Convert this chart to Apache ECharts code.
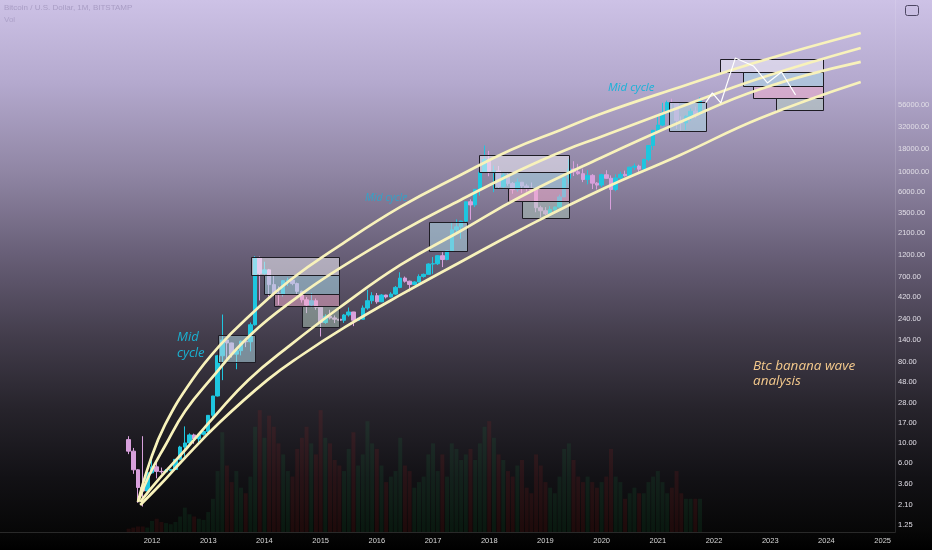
<!DOCTYPE html>
<html><head><meta charset="utf-8">
<script src="https://cdn.jsdelivr.net/npm/echarts@6/dist/echarts.min.js"></script>
<style>
html,body{margin:0;padding:0;background:#000;}
#c{width:932px;height:550px;background:linear-gradient(to bottom,#cdc2e6 0%,#b4a9ce 15%,#8e84a2 32%,#665d75 47%,#433d4c 61%,#27242c 74%,#121115 87%,#070707 96.6%,#000 100%);}
</style></head><body><div id="c"></div>
<script>
// Monthly candles: [month, open, high, low, close]
const candles = [
['2011-08',11.0,12.0,7.6,8.2],['2011-09',8.2,8.9,4.6,5.1],['2011-10',5.1,5.2,2.2,3.25],['2011-11',3.25,12.0,2.0,2.97],['2011-12',2.97,4.8,2.7,4.72],
['2012-01',4.72,7.2,4.6,5.5],['2012-02',5.5,6.3,4.1,4.9],['2012-03',4.9,5.4,4.6,4.85],['2012-04',4.85,5.2,4.7,5.0],['2012-05',5.0,5.2,4.9,5.15],['2012-06',5.15,6.7,5.1,6.65],
['2012-07',6.65,9.4,6.5,9.1],['2012-08',9.1,15.4,7.1,10.1],['2012-09',10.1,12.9,9.8,12.4],['2012-10',12.4,12.8,9.9,11.2],['2012-11',11.2,12.9,10.0,12.6],['2012-12',12.6,13.8,12.2,13.5],
['2013-01',13.5,20.4,13.2,20.4],['2013-02',20.4,33.5,19.4,33.4],['2013-03',33.4,95,33.0,93],['2013-04',93,266,50,139],['2013-05',139,140,79,129],['2013-06',129,130,89,97],
['2013-07',97,111,66,106],['2013-08',106,137,94,135],['2013-09',135,146,116,133],['2013-10',133,217,104,205],['2013-11',205,1180,200,1130],['2013-12',1130,1165,380,754],
['2014-01',754,1020,735,830],['2014-02',830,850,420,570],['2014-03',570,710,430,450],['2014-04',450,545,340,445],['2014-05',445,640,420,630],['2014-06',630,680,550,640],
['2014-07',640,660,560,585],['2014-08',585,600,440,480],['2014-09',480,490,360,387],['2014-10',387,415,276,338],['2014-11',338,460,320,378],['2014-12',378,400,300,320],
['2015-01',320,320,152,217],['2015-02',217,268,210,254],['2015-03',254,300,235,244],['2015-04',244,260,214,236],['2015-05',236,248,225,230],['2015-06',230,270,215,263],
['2015-07',263,318,252,284],['2015-08',284,285,198,230],['2015-09',230,245,225,236],['2015-10',236,335,235,314],['2015-11',314,500,300,378],['2015-12',378,470,350,430],
['2016-01',430,460,350,368],['2016-02',368,447,365,437],['2016-03',437,440,400,416],['2016-04',416,470,412,448],['2016-05',448,550,440,531],['2016-06',531,780,520,673],
['2016-07',673,700,600,621],['2016-08',621,630,480,572],['2016-09',572,620,565,609],['2016-10',609,740,605,701],['2016-11',701,755,680,740],['2016-12',740,980,740,963],
['2017-01',963,1150,750,970],['2017-02',970,1210,940,1190],['2017-03',1190,1300,890,1080],['2017-04',1080,1350,1060,1350],['2017-05',1350,2770,1350,2300],['2017-06',2300,3000,2100,2480],
['2017-07',2480,2900,1830,2870],['2017-08',2870,4700,2700,4700],['2017-09',4700,5000,2970,4340],['2017-10',4340,6450,4100,6450],['2017-11',6450,11500,5500,10000],['2017-12',10000,19700,10000,13800],
['2018-01',13800,17200,9000,10200],['2018-02',10200,11800,6000,10300],['2018-03',10300,11700,6600,6930],['2018-04',6930,9800,6450,9240],['2018-05',9240,9990,7060,7500],['2018-06',7500,7770,5770,6390],
['2018-07',6390,8500,6070,7730],['2018-08',7730,7760,5880,7030],['2018-09',7030,7420,6100,6630],['2018-10',6630,7680,6200,6370],['2018-11',6370,6550,3600,4040],['2018-12',4040,4250,3160,3740],
['2019-01',3740,4100,3350,3450],['2019-02',3450,4200,3370,3850],['2019-03',3850,4150,3700,4110],['2019-04',4110,5630,4070,5320],['2019-05',5320,9100,5320,8560],['2019-06',8560,13880,7460,10820],
['2019-07',10820,13200,9070,10080],['2019-08',10080,12340,9330,9600],['2019-09',9600,10900,7750,8290],['2019-10',8290,10500,7320,9200],['2019-11',9200,9500,6500,7550],['2019-12',7550,7750,6430,7190],
['2020-01',7190,9580,6850,9350],['2020-02',9350,10500,8450,8540],['2020-03',8540,9200,3850,6420],['2020-04',6420,9460,6150,8630],['2020-05',8630,10080,8130,9450],['2020-06',9450,10390,8930,9140],
['2020-07',9140,11450,8990,11350],['2020-08',11350,12470,10550,11650],['2020-09',11650,12080,9880,10780],['2020-10',10780,14100,10380,13800],['2020-11',13800,19850,13200,19700],['2020-12',19700,29300,17600,29000],
['2021-01',29000,41950,28100,33100],['2021-02',33100,58300,32300,45200],['2021-03',45200,61800,45000,58800],['2021-04',58800,64900,47000,57700],['2021-05',57700,59500,30000,37300],['2021-06',37300,41300,28800,35000],
['2021-07',35000,42400,29300,41500],['2021-08',41500,50500,37300,47100],['2021-09',47100,52900,39600,43800],['2021-10',43800,67000,43300,61300]
];
const volumes = [3,4,5,5,4,
 10,12,9,8,7,9,14,22,16,14,12,11,
 18,30,55,90,60,45,55,40,35,50,95,110,
 85,105,95,80,70,55,50,75,85,95,80,70,
 110,85,80,65,60,55,75,90,60,70,100,80,
 75,60,45,50,55,85,60,55,40,45,50,70,
 80,55,70,50,80,75,65,70,75,65,80,95,
 100,85,70,65,55,50,60,65,40,35,70,60,
 45,40,35,50,75,80,65,50,45,50,45,40,
 45,50,75,50,45,30,35,40,35,35,45,50,
 55,45,35,40,55,35,30,30,30,30];
const priceTicks = [1.25,2.10,3.60,6.00,10,17,28,48,80,140,240,420,700,1200,2100,3500,6000,10000,18000,32000,56000];
const yearTicks = [2012,2013,2014,2015,2016,2017,2018,2019,2020,2021,2022,2023,2024,2025];
const xRange = [2009.295, 2025.22];
const priceRange = [1.046, 801000];
// Banana arcs: [decimal year, price]
const arcOuter = [[2011.75,2.25],[2011.96,6.2],[2012.23,16],[2012.71,50],[2013.21,122],[2013.75,263],[2014.46,641],[2015.35,1560],[2016.42,4120],[2017.49,9300],[2018.38,17600],[2019.27,29300],[2019.98,44000],[2021.40,87500],[2022.83,169600],[2024.61,346000]];
const arcUpperMid = [[2011.75,2.25],[2011.96,4.58],[2012.23,9.35],[2012.59,22.8],[2013.03,50],[2013.75,158],[2014.64,438],[2015.35,871],[2016.42,2180],[2017.49,4920],[2018.55,10560],[2019.36,17600],[2019.98,24500],[2021.40,52600],[2022.83,110000],[2024.61,236000]];
const arcLowerMid = [[2011.79,2.25],[2012.14,4.14],[2012.59,8.44],[2013.12,20.1],[2013.71,50],[2014.46,122],[2015.35,322],[2016.42,940],[2017.49,2234],[2018.55,5312],[2019.98,14340],[2021.40,35870],[2022.83,83170],[2024.61,165400]];
const arcInner = [[2011.79,2.08],[2012.14,3.46],[2012.55,6.55],[2013.21,17.2],[2014.05,50],[2014.64,92.5],[2015.44,194],[2016.42,438],[2017.49,1014],[2018.55,2292],[2019.98,6350],[2021.40,15480],[2022.83,39720],[2024.61,99380]];
// Boxes: [start year, end year, low price, high price, kind]
const boxes = [
 [2013.18,2013.83,79.4,158,4],
 [2013.76,2015.33,729,1152,0],[2013.99,2015.33,449,729,1],[2014.17,2015.33,328,449,2],[2014.67,2015.33,194,328,3],
 [2016.92,2017.59,1343,2810,4],
 [2017.82,2019.43,10040,15480,0],[2018.09,2019.43,6680,10040,1],[2018.34,2019.43,4823,6680,2],[2018.59,2019.43,3111,4823,3],
 [2021.19,2021.85,28520,59700,4],
 [2022.10,2023.93,128200,178600,0],[2022.51,2023.93,89800,128200,1],[2022.69,2023.93,66150,89800,2],[2023.10,2023.93,48700,66150,3]
];
const projection = [[2021.85,58200],[2021.97,75100],[2022.12,58200],[2022.38,183200],[2022.70,149400],[2022.95,96900],[2023.20,128200],[2023.45,71400]];

const boxFills = ['rgba(240,238,248,0.55)','rgba(170,215,230,0.55)','rgba(245,175,205,0.5)','rgba(185,215,195,0.45)','rgba(175,215,228,0.55)'];
const L = Math.log10;
const toX = m => { const p = m.split('-'); return +p[0] + (+p[1]-1)/12; };
const candleData = candles.map(r => [toX(r[0]), L(r[1]), L(r[4]), L(r[3]), L(r[2])]);
const volData = candles.map((r,i) => ({value:[toX(r[0]), volumes[i]], itemStyle:{color: r[4]>=r[1] ? 'rgba(30,150,80,0.13)' : 'rgba(190,40,40,0.13)'}}));
const arcLine = d => ({type:'line', data:d.map(p=>[p[0],L(p[1])]), smooth:0.45, symbol:'none', z:4, silent:true,
  lineStyle:{color:'#f8f2bb', width:2.7}});

const chart = echarts.init(document.getElementById('c'), null, {renderer:'canvas'});
chart.setOption({
  animation:false,
  backgroundColor:'transparent',
  grid:{left:0, right:37, top:0, bottom:18, containLabel:false, outerBoundsMode:'none'},
  xAxis:{type:'value', min:xRange[0], max:xRange[1],
    axisLine:{show:true, lineStyle:{color:'rgba(255,255,255,0.14)', width:1}},
    axisTick:{show:false}, splitLine:{show:false},
    axisLabel:{customValues:yearTicks, formatter:v=>String(v), color:'#d8d8d8', fontSize:7.5, fontFamily:'Liberation Sans, sans-serif', margin:5}},
  yAxis:[
    {type:'value', position:'right', min:L(priceRange[0]), max:L(priceRange[1]),
     axisLine:{show:true, lineStyle:{color:'rgba(255,255,255,0.12)', width:1}},
     axisTick:{show:false}, splitLine:{show:false},
     axisLabel:{customValues:priceTicks.map(L), formatter:v=>Math.pow(10,v).toFixed(2), color:'#e0dde6', fontSize:7.5, fontFamily:'Liberation Sans, sans-serif', margin:3}},
    {type:'value', min:0, max:480, show:false}
  ],
  series:[
    {type:'bar', yAxisIndex:1, data:volData, barWidth:4, z:1, silent:true},
    {type:'candlestick', data:candleData, encode:{x:0, y:[1,2,3,4]}, barWidth:4, z:2, silent:true,
     itemStyle:{color:'#1ec6df', color0:'#d8a0dc', borderColor:'#1ec6df', borderColor0:'#d8a0dc', borderWidth:1}},
    {type:'custom', z:3, silent:true,
     data:boxes.map(b=>[b[0],b[1],L(b[2]),L(b[3]),b[4]]),
     encode:{x:[0,1], y:[2,3]},
     renderItem:function(params, api){
       const p1 = api.coord([api.value(0), api.value(3)]);
       const p2 = api.coord([api.value(1), api.value(2)]);
       return {type:'rect', shape:{x:Math.round(p1[0])+0.5, y:Math.round(p1[1])+0.5, width:Math.round(p2[0]-p1[0]), height:Math.round(p2[1]-p1[1])},
         style:{fill:boxFills[api.value(4)], stroke:'#1e1c24', lineWidth:1}};
     }},
    arcLine(arcOuter), arcLine(arcUpperMid), arcLine(arcLowerMid), arcLine(arcInner),
    {type:'line', data:projection.map(p=>[p[0],L(p[1])]), symbol:'none', z:5, silent:true, lineStyle:{color:'#ffffff', width:1.2}}
  ],
  graphic:[
    {type:'text', left:4, top:4, style:{text:'Bitcoin / U.S. Dollar, 1M, BITSTAMP', fill:'rgba(140,128,170,0.55)', fontSize:8, fontFamily:'Liberation Sans, sans-serif'}},
    {type:'text', left:4, top:16, style:{text:'Vol', fill:'rgba(140,128,170,0.45)', fontSize:8, fontFamily:'Liberation Sans, sans-serif'}},
    {type:'rect', shape:{x:905.5, y:5.5, width:13, height:10, r:2}, style:{fill:'rgba(0,0,0,0)', stroke:'#4d4763', lineWidth:1}},
    {type:'text', left:177, top:329, style:{text:'Mid\ncycle', fill:'#19b2d2', fontSize:13, fontStyle:'italic', fontFamily:'Open Sans, sans-serif', lineHeight:16}},
    {type:'text', left:365, top:193, style:{text:'Mid cycle', fill:'rgba(30,172,212,0.8)', fontSize:10.5, fontStyle:'italic', fontFamily:'Open Sans, sans-serif'}},
    {type:'text', left:608, top:82, style:{text:'Mid cycle', fill:'#1ab2d8', fontSize:11.5, fontStyle:'italic', fontFamily:'Open Sans, sans-serif'}},
    {type:'text', left:753, top:359, style:{text:'Btc banana wave\nanalysis', fill:'#f4c98c', fontSize:13.5, fontStyle:'italic', fontFamily:'Open Sans, sans-serif', lineHeight:15}}
  ]
});
</script></body></html>
